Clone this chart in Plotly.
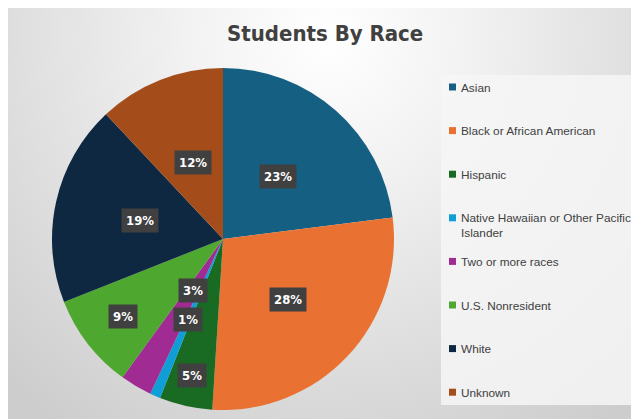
import math
import base64
import plotly.graph_objects as go

# ---- data ----
categories = [
    "Asian",
    "Black or African American",
    "Hispanic",
    "Native Hawaiian or Other Pacific Islander",
    "Two or more races",
    "U.S. Nonresident",
    "White",
    "Unknown",
]
legend_labels = [
    "Asian",
    "Black or African American",
    "Hispanic",
    "Native Hawaiian or Other Pacific<br>Islander",
    "Two or more races",
    "U.S. Nonresident",
    "White",
    "Unknown",
]
percent_values = [23, 28, 5, 1, 3, 9, 19, 12]
title_text = "Students By Race"

# ---- styles ----
colors = ["#156082", "#E97132", "#196B24", "#0F9ED5", "#A02B93", "#4EA72E", "#0E2841", "#A44D1A"]
label_radius = [0.49, 0.52, 0.82, 0.51, 0.35, 0.74, 0.50, 0.48]

W, H = 639, 419
OFF = 8  # page body margin
CX, CY, R = 223, 239, 171

def px(x):
    return (x - OFF) / W

def py(y):
    return 1 - (y - OFF) / H

FONT = "Liberation Sans Narrow, DejaVu Sans Condensed, Arial Narrow, sans-serif"
FONT2 = "Liberation Sans, Arial, sans-serif"

fig = go.Figure()
fig.add_trace(go.Pie(
    labels=categories,
    values=percent_values,
    sort=False,
    direction="clockwise",
    rotation=0,
    marker=dict(colors=colors, line=dict(width=0)),
    textinfo="none",
    showlegend=False,
    domain=dict(x=[px(CX - R), px(CX + R)], y=[py(CY + R), py(CY - R)]),
    hovertemplate="%{label}: %{value}%<extra></extra>",
))

# background gradient image
svg = (
    "<svg xmlns='http://www.w3.org/2000/svg' width='639' height='419'>"
    "<defs><radialGradient id='g' gradientUnits='userSpaceOnUse' cx='320' cy='30' r='470'>"
    "<stop offset='0' stop-color='#ffffff'/>"
    "<stop offset='0.3' stop-color='#f2f2f2'/>"
    "<stop offset='1' stop-color='#cdcdcd'/>"
    "</radialGradient></defs>"
    "<rect width='639' height='419' fill='url(#g)'/></svg>"
)
src = "data:image/svg+xml;base64," + base64.b64encode(svg.encode()).decode()

annotations = []
shapes = []

# slice labels
total = sum(percent_values)
cum = 0
for v, rf in zip(percent_values, label_radius):
    theta = (cum + v / 2) / total * 2 * math.pi
    cum += v
    lx = CX + rf * R * math.sin(theta)
    ly = CY - rf * R * math.cos(theta)
    annotations.append(dict(
        x=px(lx), y=py(ly), xref="paper", yref="paper",
        xanchor="center", yanchor="middle",
        text=f"{round(v / total * 100)}%", showarrow=False,
        font=dict(family=FONT, size=13, color="white", weight="bold"),
        bgcolor="#404040", borderpad=4,
    ))

# legend box
shapes.append(dict(type="rect", xref="paper", yref="paper",
                   x0=px(441), x1=px(660), y0=py(405), y1=py(75),
                   fillcolor="rgba(246,246,246,0.85)", line=dict(width=0), layer="below"))

LEG_Y0, LEG_STEP = 87, 43.6
for i, (lab, c) in enumerate(zip(legend_labels, colors)):
    yy = LEG_Y0 + i * LEG_STEP
    shapes.append(dict(type="rect", xref="paper", yref="paper",
                       x0=px(449), x1=px(456), y0=py(yy + 3.5), y1=py(yy - 3.5),
                       fillcolor=c, line=dict(width=0)))
    annotations.append(dict(
        x=px(459), y=py(yy - 8.5), xref="paper", yref="paper",
        xanchor="left", yanchor="top", align="left",
        text=lab, showarrow=False,
        font=dict(family=FONT2, size=11.8, color="#404040"),
    ))

# title
annotations.append(dict(
    x=px(325), y=py(33), xref="paper", yref="paper",
    xanchor="center", yanchor="middle",
    text=title_text, showarrow=False,
    font=dict(family=FONT, size=22, color="#404040", weight="bold"),
))

fig.update_layout(
    width=W, height=H,
    margin=dict(l=0, r=0, t=0, b=0),
    paper_bgcolor="white",
    plot_bgcolor="white",
    annotations=annotations,
    shapes=shapes,
    images=[dict(source=src, xref="paper", yref="paper",
                 x=0, y=1, sizex=1, sizey=1,
                 xanchor="left", yanchor="top", sizing="stretch", layer="below")],
)

fig.write_html("out.html")
